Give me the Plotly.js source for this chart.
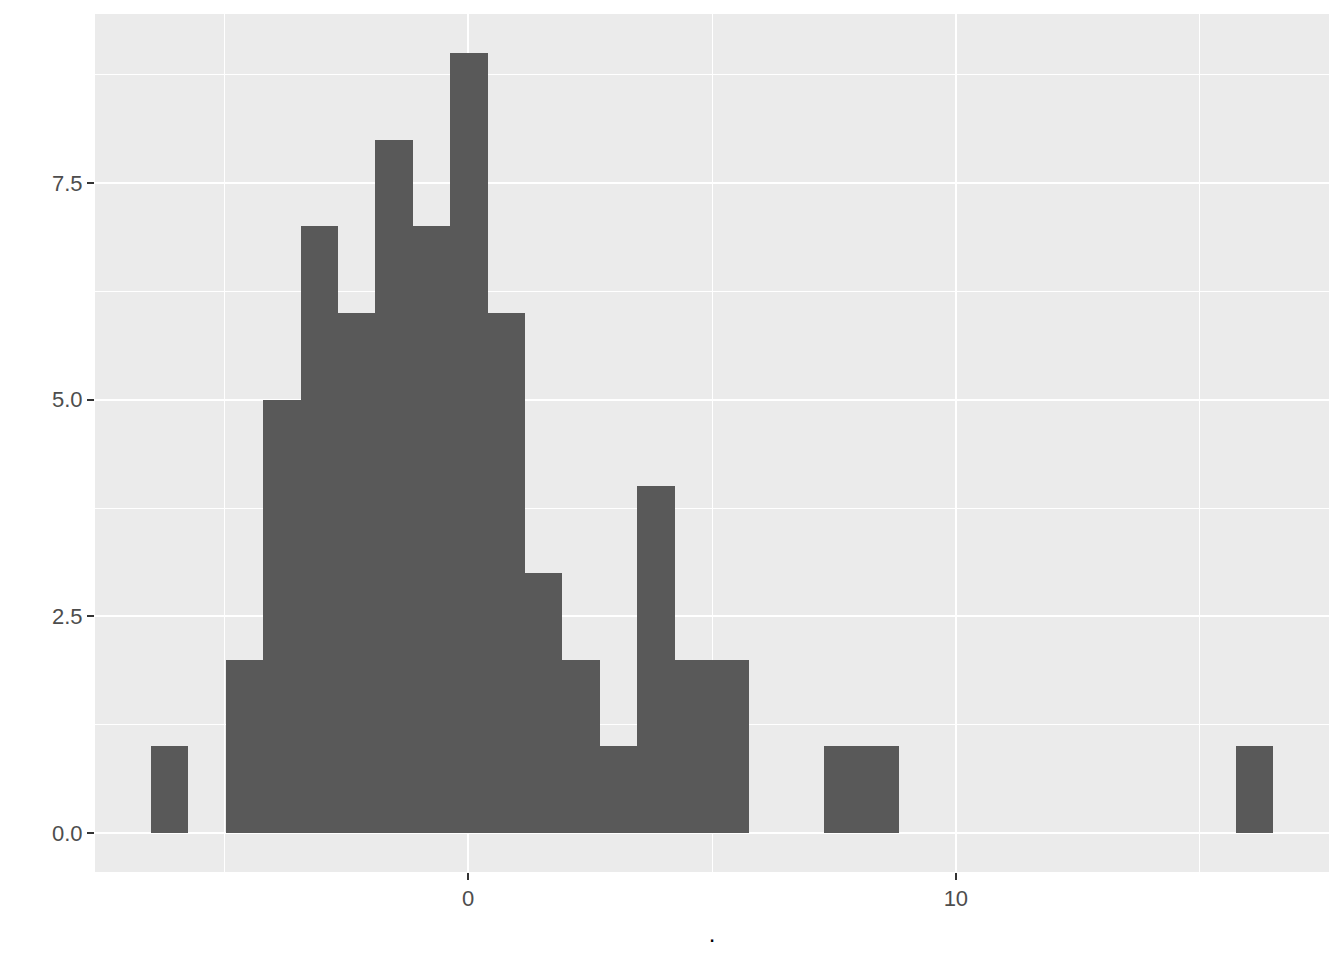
<!DOCTYPE html>
<html>
<head>
<meta charset="utf-8">
<script src="https://cdn.plot.ly/plotly-3.0.1.min.js"></script>
<style>html,body{margin:0;padding:0;background:#fff;}#chart{width:1344px;height:960px;}</style>
</head>
<body>
<div id="chart"></div>
<script>
// Histogram data: 30 bins from -6.5 to 16.5
const binStart = -6.5;
const binEnd = 16.5;
const counts = [1,0,2,5,7,6,8,7,9,6,3,2,1,4,2,2,0,0,1,1,0,0,0,0,0,0,0,0,0,1];
const xTickVals = [0, 10];
const xTickText = ["0", "10"];
const yTickVals = [0, 2.5, 5, 7.5];
const yTickText = ["0.0", "2.5", "5.0", "7.5"];

const nBins = counts.length;
const binWidth = (binEnd - binStart) / nBins;
const centers = counts.map((c, i) => binStart + binWidth * (i + 0.5));

const xPad = (binEnd - binStart) * 0.05;
const yMax = Math.max(...counts);
const yPad = yMax * 0.05;

const trace = {
  type: 'bar',
  x: centers,
  y: counts,
  width: binWidth,
  marker: {color: '#595959', line: {width: 0}},
  hoverinfo: 'x+y'
};

const layout = {
  width: 1344,
  height: 960,
  margin: {l: 95, r: 15, t: 14, b: 88},
  paper_bgcolor: '#FFFFFF',
  plot_bgcolor: '#EBEBEB',
  showlegend: false,
  bargap: 0,
  font: {family: 'Liberation Sans, Arial, sans-serif', color: '#4D4D4D', size: 22},
  xaxis: {
    range: [binStart - xPad, binEnd + xPad],
    tickvals: xTickVals,
    ticktext: xTickText,
    showgrid: true,
    gridcolor: '#FFFFFF',
    gridwidth: 2,
    zeroline: false,
    showline: false,
    ticks: 'outside',
    ticklen: 7,
    tickwidth: 2,
    tickcolor: '#333333',
    tickfont: {size: 22, color: '#4D4D4D'},
    minor: {dtick: 5, tick0: 0, showgrid: true, gridcolor: '#FFFFFF', gridwidth: 1, ticks: ''},
    title: {text: '.', font: {size: 24, color: '#000000'}, standoff: 14}
  },
  yaxis: {
    range: [-yPad, yMax + yPad],
    tickvals: yTickVals,
    ticktext: yTickText,
    showgrid: true,
    gridcolor: '#FFFFFF',
    gridwidth: 2,
    zeroline: false,
    showline: false,
    ticks: 'outside',
    ticklen: 7,
    tickwidth: 2,
    tickcolor: '#333333',
    tickfont: {size: 22, color: '#4D4D4D'},
    minor: {dtick: 1.25, tick0: 0, showgrid: true, gridcolor: '#FFFFFF', gridwidth: 1, ticks: ''}
  }
};

Plotly.newPlot('chart', [trace], layout, {displayModeBar: false, staticPlot: true});
</script>
</body>
</html>
